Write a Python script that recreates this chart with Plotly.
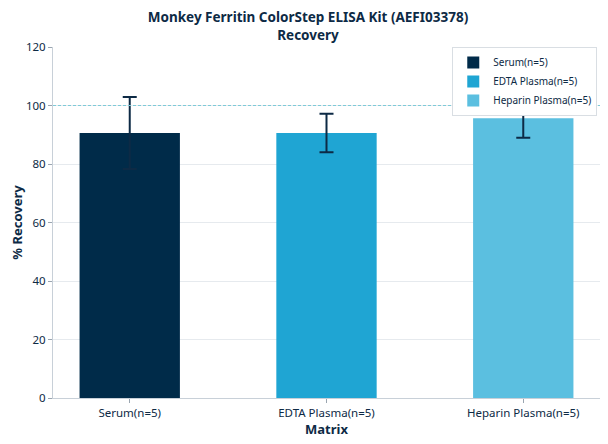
import plotly.graph_objects as go

# data
matrices = ["Serum(n=5)", "EDTA Plasma(n=5)", "Heparin Plasma(n=5)"]
recovery = [90.6, 90.6, 95.6]
recovery_sd = [12.3, 6.6, 6.6]
bar_colors = ["#002b49", "#1fa5d3", "#5bbfe0"]
reference_level = 100

font_family = "Noto Sans, Open Sans, sans-serif"
navy = "#0d2a45"

fig = go.Figure()

for name, val, sd, col in zip(matrices, recovery, recovery_sd, bar_colors):
    fig.add_trace(go.Bar(
        x=[name], y=[val], name=name,
        marker=dict(color=col, line=dict(width=0)),
        width=0.51,
        error_y=dict(type="data", array=[sd], visible=True,
                     color=navy, thickness=2, width=7),
    ))

# dashed 100% line
fig.add_shape(type="line", xref="paper", yref="y", x0=0, x1=1,
              y0=reference_level, y1=reference_level, layer="above",
              line=dict(color="#7fcad8", width=1, dash="3px,2px"))

# page body has an 8px margin, so the figure is a bit smaller than the window
fig.update_layout(
    width=600, height=436,
    margin=dict(l=45, r=8, t=39, b=46),
    paper_bgcolor="white", plot_bgcolor="white",
    font=dict(family=font_family, size=12, color=navy),
    barmode="overlay",
    title=dict(text="<b>Monkey Ferritin ColorStep ELISA Kit (AEFI03378)<br>Recovery</b>",
               x=0.5, xanchor="center", y=0.967, yanchor="top",
               font=dict(size=13.5, color=navy)),
    legend=dict(x=0.995, y=1.0, xanchor="right", yanchor="top",
                bgcolor="white", bordercolor="#d9dee3", borderwidth=1,
                font=dict(size=10, color=navy)),
    xaxis=dict(
        title=dict(text="<b>Matrix</b>", font=dict(size=13, color=navy), standoff=2),
        range=[-0.39, 2.39], showline=True, linecolor="#c8d0d8", linewidth=1,
        ticks="outside", ticklen=4, tickcolor="#9aa5b0", automargin=False,
        showgrid=False, tickfont=dict(size=11.5, color=navy),
    ),
    yaxis=dict(
        title=dict(text="<b>% Recovery</b>", font=dict(size=13, color=navy), standoff=3),
        range=[0, 120], dtick=20, showline=True, linecolor="#c8d0d8", linewidth=1,
        ticks="outside", ticklen=4, tickcolor="#9aa5b0", automargin=False,
        showgrid=True, gridcolor="#e6eaee", gridwidth=1,
        zeroline=False, tickfont=dict(size=11.5, color=navy),
    ),
)

fig.write_html("out.html")
